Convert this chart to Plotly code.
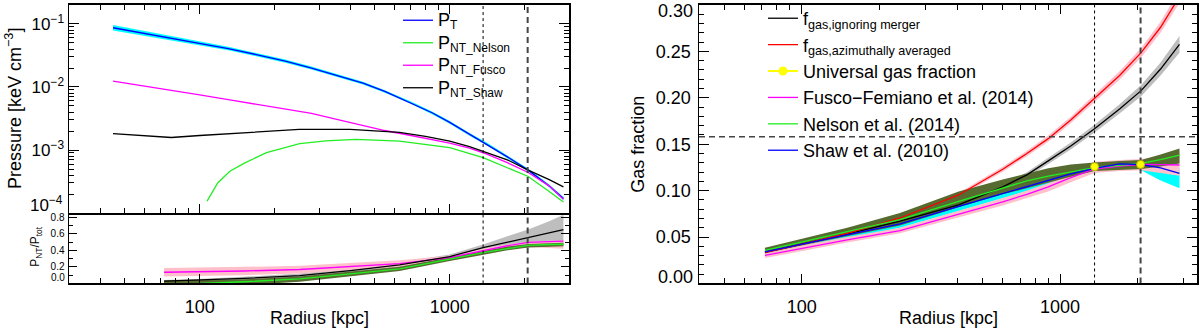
import math
import plotly.graph_objects as go

# radii in kpc
# --- left, top: pressure profiles [keV cm^-3]
r_p = [45, 60, 80, 100, 130, 170, 220, 280, 350, 450, 550, 700, 850, 1000, 1200, 1400, 1700, 2060, 2500, 2850]
p_t = [0.0871, 0.0708, 0.0582, 0.0501, 0.0407, 0.0324, 0.0257, 0.0200, 0.0155, 0.0115, 0.0085, 0.0056,
       0.0039, 0.00275, 0.00178, 0.00126, 0.00078, 0.00048, 0.000270, 0.000170]
p_t_lo = [0.0790, 0.0648, 0.0538, 0.0467, 0.0381, 0.0305, 0.0243, 0.0190, 0.0148, 0.0110, 0.0081, 0.0054,
          0.0037, 0.00262, 0.00169, 0.00120, 0.00074, 0.000455, 0.000256, 0.000160]
p_t_hi = [0.0960, 0.0774, 0.0630, 0.0537, 0.0434, 0.0344, 0.0272, 0.0211, 0.0163, 0.0121, 0.0089, 0.0059,
          0.0041, 0.00289, 0.00187, 0.00133, 0.00082, 0.000505, 0.000284, 0.000180]
p_fusco = [0.0124, 0.0104, 0.0086, 0.0075, 0.0063, 0.0053, 0.0045, 0.0038, 0.0031, 0.00245, 0.00204, 0.0017,
           0.00148, 0.00129, 0.00107, 0.00087, 0.00063, 0.00044, 0.00027, 0.000166]

r_shaw = [45, 77, 100, 150, 250, 400, 630, 800, 1000, 1200, 1360, 1700, 2060, 2500, 2850]
p_shaw = [0.00182, 0.00158, 0.00170, 0.00188, 0.00212, 0.00212, 0.00190, 0.00165, 0.00138, 0.00113,
          0.00096, 0.00070, 0.00048, 0.00034, 0.00026]

r_nelson = [107, 118, 132, 151, 185, 251, 320, 420, 630, 1000, 1360, 1700, 2060, 2500, 2850]
p_nelson = [1.55e-4, 3.0e-4, 4.6e-4, 6.2e-4, 9.1e-4, 1.26e-3, 1.40e-3, 1.48e-3, 1.38e-3, 1.09e-3,
            7.6e-4, 5.3e-4, 3.8e-4, 2.2e-4, 1.5e-4]

# --- left, bottom: P_NT / P_tot
r_ratio = [72, 103, 150, 251, 400, 630, 1000, 1360, 1700, 2060, 2500, 2850]
q_fusco = [0.135, 0.14, 0.15, 0.168, 0.205, 0.24, 0.313, 0.40, 0.455, 0.495, 0.508, 0.51]
q_fusco_lo = [0.085, 0.09, 0.10, 0.12, 0.16, 0.20, 0.28, 0.36, 0.41, 0.44, 0.43, 0.42]
q_fusco_hi = [0.185, 0.19, 0.20, 0.215, 0.25, 0.28, 0.335, 0.42, 0.47, 0.505, 0.515, 0.52]
q_shaw = [0.027, 0.04, 0.06, 0.095, 0.155, 0.225, 0.325, 0.432, 0.50, 0.55, 0.61, 0.65]
q_shaw_lo = [0.015, 0.025, 0.04, 0.07, 0.125, 0.195, 0.295, 0.39, 0.42, 0.44, 0.45, 0.46]
q_shaw_hi = [0.04, 0.055, 0.08, 0.12, 0.185, 0.255, 0.35, 0.47, 0.57, 0.65, 0.75, 0.83]
q_nelson = [-0.03, 0.0, 0.02, 0.056, 0.115, 0.175, 0.294, 0.373, 0.42, 0.46, 0.47, 0.473]
q_nelson_lo = [-0.06, -0.04, -0.02, 0.02, 0.085, 0.15, 0.27, 0.35, 0.40, 0.435, 0.445, 0.45]
q_nelson_hi = [0.035, 0.04, 0.05, 0.085, 0.14, 0.20, 0.315, 0.395, 0.445, 0.475, 0.485, 0.49]

# --- right: gas fraction
r_gas = [72, 100, 150, 240, 405, 600, 744, 900, 1100, 1360, 1700, 2060, 2450, 2900]
f_nelson = [0.0357, 0.0447, 0.0559, 0.0688, 0.0884, 0.1027, 0.1105, 0.1155, 0.120, 0.1247, 0.1272, 0.1293, 0.1335, 0.1382]
f_nelson_lo = [0.0331, 0.041, 0.051, 0.0625, 0.082, 0.096, 0.1026, 0.109, 0.115, 0.121, 0.122, 0.1233, 0.126, 0.1293]
f_nelson_hi = [0.0385, 0.048, 0.060, 0.076, 0.099, 0.112, 0.1186, 0.124, 0.128, 0.1304, 0.132, 0.133, 0.139, 0.1453]
f_azim = [0.0331, 0.042, 0.054, 0.0705, 0.0953, 0.123, 0.140, 0.156, 0.176, 0.199, 0.224, 0.2486, 0.276, 0.309]
f_azim_lo = [0.0315, 0.0403, 0.0522, 0.0685, 0.0930, 0.1203, 0.1370, 0.1527, 0.1725, 0.1950, 0.2195, 0.2435, 0.2700, 0.3020]
f_azim_hi = [0.0347, 0.0437, 0.0558, 0.0725, 0.0976, 0.1257, 0.1430, 0.1593, 0.1795, 0.2030, 0.2285, 0.2537, 0.2820, 0.3160]
f_nomerge = [0.0335, 0.042, 0.053, 0.067, 0.0847, 0.104, 0.117, 0.132, 0.148, 0.1667, 0.188, 0.2077, 0.231, 0.2575]
f_nomerge_lo = [0.0320, 0.0403, 0.0512, 0.0650, 0.0825, 0.1015, 0.1142, 0.1287, 0.1443, 0.1625, 0.1830, 0.2017, 0.2240, 0.2485]
f_nomerge_hi = [0.0350, 0.0437, 0.0548, 0.0690, 0.0869, 0.1065, 0.1198, 0.1353, 0.1517, 0.1709, 0.1930, 0.2137, 0.2380, 0.2665]
f_shaw = [0.0339, 0.042, 0.052, 0.0641, 0.0831, 0.097, 0.1044, 0.111, 0.118, 0.124, 0.1289, 0.128, 0.1245, 0.1186]
f_shaw_lo = [0.0309, 0.039, 0.048, 0.0601, 0.0781, 0.092, 0.0994, 0.106, 0.113, 0.119, 0.124, 0.122, 0.111, 0.1026]
f_shaw_hi = [0.0349, 0.043, 0.053, 0.0651, 0.0841, 0.098, 0.1054, 0.112, 0.119, 0.125, 0.1299, 0.129, 0.1255, 0.124]
f_fusco = [0.0303, 0.038, 0.047, 0.057, 0.0745, 0.088, 0.096, 0.104, 0.114, 0.1233, 0.1265, 0.1282, 0.128, 0.1276]
f_fusco_lo = [0.0273, 0.035, 0.044, 0.054, 0.071, 0.084, 0.092, 0.099, 0.109, 0.119, 0.121, 0.122, 0.119, 0.116]
f_fusco_hi = [0.0333, 0.041, 0.050, 0.060, 0.078, 0.092, 0.100, 0.108, 0.118, 0.131, 0.133, 0.134, 0.137, 0.142]

r_univ = [1360, 2050]
f_univ = [0.1258, 0.1282]
f_cosmic = 0.158

r_dotted = 1360
r_dashed = 2050

# axis ranges
x_left = [30, 3000]
x_right = [40, 3390]
p_range = [1e-4, 0.2]
q_range = [0.0, 0.85]
f_range = [0.0, 0.30]

FONT = "Liberation Sans, Arial, Helvetica, sans-serif"
W, H = 1200, 330

fig = go.Figure()


def band(x, lo, hi, color, xa, ya):
    fig.add_trace(go.Scatter(x=x, y=lo, mode="lines", line=dict(width=0), showlegend=False,
                             hoverinfo="skip", xaxis=xa, yaxis=ya))
    fig.add_trace(go.Scatter(x=x, y=hi, mode="lines", line=dict(width=0), fill="tonexty",
                             fillcolor=color, showlegend=False, hoverinfo="skip", xaxis=xa, yaxis=ya))


def curve(x, y, color, xa, ya, name=None, legend="legend", rank=None, width=1.3):
    fig.add_trace(go.Scatter(x=x, y=y, mode="lines", line=dict(color=color, width=width),
                             name=name, showlegend=name is not None, legend=legend,
                             legendrank=rank, xaxis=xa, yaxis=ya))


def vline(xv, yr, xa, ya, dotted):
    if dotted:
        ln = dict(color="black", width=1, dash="dot")
    else:
        ln = dict(color="#444444", width=2, dash="6px,4px")
    fig.add_trace(go.Scatter(x=[xv, xv], y=yr, mode="lines", line=ln, showlegend=False,
                             hoverinfo="skip", xaxis=xa, yaxis=ya))


def p_label(sub):
    return "<span style='font-size:18px'>P</span><sub><span style='font-size:12px'>" + sub + "</span></sub>"


# ---------- left top: pressure
band(r_p, p_t_lo, p_t_hi, "#00ffff", "x", "y")
curve(r_p, p_t, "#0000ff", "x", "y", p_label("T"), rank=1)
curve(r_nelson, p_nelson, "#22ee22", "x", "y", p_label("NT_Nelson"), rank=2)
curve(r_p, p_fusco, "#ff00ff", "x", "y", p_label("NT_Fusco"), rank=3)
curve(r_shaw, p_shaw, "black", "x", "y", p_label("NT_Shaw"), rank=4)
vline(r_dotted, p_range, "x", "y", True)
vline(r_dashed, p_range, "x", "y", False)

# ---------- left bottom: ratio
band(r_ratio, q_shaw_lo, q_shaw_hi, "#bebebe", "x2", "y2")
band(r_ratio, q_fusco_lo, q_fusco_hi, "#ffc0cb", "x2", "y2")
band(r_ratio, q_nelson_lo, q_nelson_hi, "#556b2f", "x2", "y2")
curve(r_ratio, q_fusco, "#ff00ff", "x2", "y2")
curve(r_ratio, q_nelson, "#22ee22", "x2", "y2")
curve(r_ratio, q_shaw, "black", "x2", "y2")
vline(r_dotted, q_range, "x2", "y2", True)
vline(r_dashed, q_range, "x2", "y2", False)

# ---------- right: gas fraction
band(r_gas, f_shaw_lo, f_shaw_hi, "#00ffff", "x3", "y3")
band(r_gas, f_fusco_lo, f_fusco_hi, "#ffc0cb", "x3", "y3")
band(r_gas, f_azim_lo, f_azim_hi, "#ffc0cb", "x3", "y3")
band(r_gas, f_nomerge_lo, f_nomerge_hi, "#bebebe", "x3", "y3")
band(r_gas, f_nelson_lo, f_nelson_hi, "#556b2f", "x3", "y3")
curve(r_gas, f_nomerge, "black", "x3", "y3", "f<sub>gas,ignoring merger</sub>", "legend2", 1)
curve(r_gas, f_azim, "#ff0000", "x3", "y3", "f<sub>gas,azimuthally averaged</sub>", "legend2", 2)
curve(r_gas, f_fusco, "#ff00ff", "x3", "y3", "Fusco\u2212Femiano et al. (2014)", "legend2", 4)
curve(r_gas, f_nelson, "#22ee22", "x3", "y3", "Nelson et al. (2014)", "legend2", 5)
curve(r_gas, f_shaw, "#0000ff", "x3", "y3", "Shaw et al. (2010)", "legend2", 6)
vline(r_dotted, f_range, "x3", "y3", True)
vline(r_dashed, f_range, "x3", "y3", False)
fig.add_trace(go.Scatter(x=r_univ, y=f_univ, mode="markers", showlegend=False,
                         marker=dict(color="#ffff00", size=8, line=dict(color="#b8b800", width=1)),
                         xaxis="x3", yaxis="y3"))
# legend entry for the universal gas fraction (line + marker sample)
fig.add_trace(go.Scatter(x=[None], y=[None], mode="lines+markers", name="Universal gas fraction",
                         line=dict(color="#ffff00", width=2), marker=dict(color="#ffff00", size=9),
                         legend="legend2", legendrank=3, xaxis="x3", yaxis="y3"))

fig.add_shape(type="line", xref="x3 domain", yref="y3", x0=0, x1=1, y0=f_cosmic, y1=f_cosmic,
              line=dict(color="#444444", width=1.5, dash="6px,4px"))

# ---------- axes
xl = [69 / W, 569 / W]
xr = [699 / W, 1197 / W]
y_top = [(H - 212) / H, (H - 2) / H]
y_bot = [(H - 283) / H, (H - 212) / H]
y_full = [(H - 283) / H, (H - 2) / H]

common = dict(showline=True, linecolor="black", linewidth=1.5, mirror="ticks", ticks="inside",
              tickcolor="black", tickwidth=1, showgrid=False, zeroline=False,
              tickfont=dict(family=FONT, size=18, color="black"))

minor_x = [40, 50, 60, 70, 80, 90, 200, 300, 400, 500, 600, 700, 800, 900, 2000, 3000]
fig.update_layout(
    xaxis=dict(common, domain=xl, anchor="y", type="log",
               range=[math.log10(x_left[0]), math.log10(x_left[1])],
               tickvals=[100, 1000], showticklabels=False, ticklen=9,
               minor=dict(tickvals=minor_x, ticks="inside", ticklen=5, tickcolor="black")),
    yaxis=dict(common, domain=y_top, anchor="x", type="log",
               range=[math.log10(p_range[0]), math.log10(p_range[1])],
               tickvals=[1e-4, 1e-3, 1e-2, 1e-1],
               ticktext=["", "10<sup>\u22123</sup>", "10<sup>\u22122</sup>", "10<sup>\u22121</sup>"],
               tickfont=dict(family=FONT, size=17, color="black"), ticklen=10, ticklabelstandoff=0,
               minor=dict(tickvals=[k * 10 ** e for e in (-4, -3, -2, -1) for k in range(2, 10) if k * 10 ** e <= 0.2],
                          ticks="inside", ticklen=5, tickcolor="black")),
    xaxis2=dict(common, domain=xl, anchor="y2", type="log", matches="x", mirror=False,
                range=[math.log10(x_left[0]), math.log10(x_left[1])],
                tickvals=[100, 1000], ticktext=["100", "1000"], ticklen=9, ticklabelstandoff=6,
                minor=dict(tickvals=minor_x, ticks="inside", ticklen=5, tickcolor="black")),
    yaxis2=dict(common, domain=y_bot, anchor="x2", range=q_range,
                tickvals=[0, 0.2, 0.4, 0.6, 0.8], ticktext=["", "0.2", "0.4", "0.6", "0.8"],
                tickfont=dict(family=FONT, size=10, color="black"), ticklen=8, ticklabelstandoff=1,
                minor=dict(dtick=0.1, ticks="inside", ticklen=4, tickcolor="black")),
    xaxis3=dict(common, domain=xr, anchor="y3", type="log",
                range=[math.log10(x_right[0]), math.log10(x_right[1])],
                tickvals=[100, 1000], ticktext=["100", "1000"], ticklen=9, ticklabelstandoff=6,
                minor=dict(tickvals=[50, 60, 70, 80, 90] + minor_x[6:], ticks="inside", ticklen=5,
                           tickcolor="black")),
    yaxis3=dict(common, domain=y_full, anchor="x3", range=f_range,
                tickvals=[0, 0.05, 0.10, 0.15, 0.20, 0.25, 0.30],
                ticktext=["", "0.05", "0.10", "0.15", "0.20", "0.25", ""], ticklen=10, ticklabelstandoff=3,
                minor=dict(dtick=0.01, ticks="inside", ticklen=5, tickcolor="black")),
)

# end-of-axis tick labels sit a little inside the frame in the original
end_labels = [
    ("10<sup>\u22124</sup>", xl[0], "y domain", 0, 9, 4, 17),
    ("0.0", xl[0], "y2 domain", 0, 6, 2, 10),
    ("0.00", xr[0], "y3 domain", 0, 6, 4, 18),
    ("0.30", xr[0], "y3 domain", 1, -6, 4, 18),
]
for txt, xp, yref, yv, ys, gap, size in end_labels:
    fig.add_annotation(text=txt, xref="paper", x=xp, xshift=-gap, yref=yref, y=yv, yshift=ys,
                       xanchor="right", yanchor="middle", showarrow=False,
                       font=dict(family=FONT, size=size, color="black"))

titles = [
    ("Pressure [keV cm<sup>\u22123</sup>]", 13, 107, -90, 18),
    ("P<sub>NT</sub>/P<sub>tot</sub>", 36, 246, -90, 12),
    ("Radius [kpc]", 319, 318, 0, 18),
    ("Radius [kpc]", 948, 318, 0, 18),
    ("Gas fraction", 638, 143, -90, 18),
]
for txt, px, py, ang, size in titles:
    fig.add_annotation(text=txt, xref="paper", yref="paper", x=px / W, y=(H - py) / H,
                       xanchor="center", yanchor="middle", textangle=ang, showarrow=False,
                       font=dict(family=FONT, size=size, color="black"))

fig.update_layout(
    width=W, height=H, margin=dict(l=0, r=0, t=0, b=0),
    paper_bgcolor="white", plot_bgcolor="white", hovermode=False,
    font=dict(family=FONT, color="black"),
    legend=dict(x=398 / W, y=(H - 1) / H, xanchor="left", yanchor="top", bgcolor="rgba(0,0,0,0)",
                traceorder="normal", font=dict(family=FONT, size=15, color="black"), tracegroupgap=0),
    legend2=dict(x=763 / W, y=(H + 3) / H, xanchor="left", yanchor="top", bgcolor="rgba(0,0,0,0)",
                 traceorder="normal", font=dict(family=FONT, size=18, color="black"), tracegroupgap=0),
)

# the page body has a default 8px margin; drop it so the figure sits at the window corner
fig.write_html("out.html", config={"displayModeBar": False, "staticPlot": True},
               post_script="document.body.style.margin='0px';")
